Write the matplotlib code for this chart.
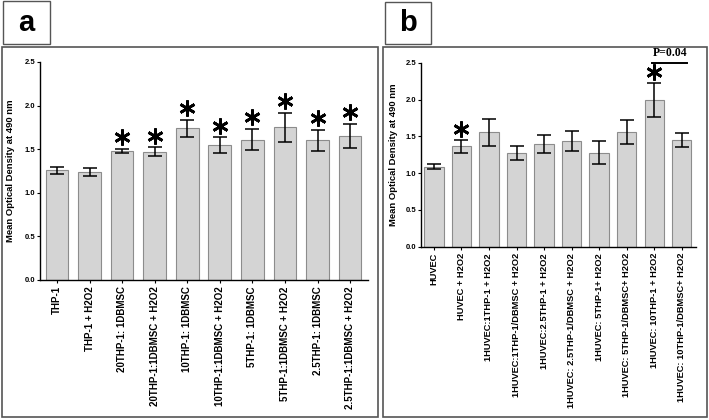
import matplotlib.pyplot as plt
from matplotlib.patches import Rectangle
from matplotlib.transforms import offset_copy

plt.rcParams['font.family'] = ['Liberation Sans', 'DejaVu Sans']
plt.rcParams['font.weight'] = 'bold'

# panel a data
labels_a = ['THP-1', 'THP-1 + H2O2', '20THP-1: 1DBMSC', '20THP-1:1DBMSC + H2O2',
            '10THP-1: 1DBMSC', '10THP-1:1DBMSC + H2O2', '5THP-1: 1DBMSC',
            '5THP-1:1DBMSC + H2O2', '2.5THP-1: 1DBMSC', '2.5THP-1:1DBMSC + H2O2']
means_a = [1.26, 1.24, 1.48, 1.47, 1.74, 1.545, 1.61, 1.75, 1.605, 1.65]
errs_a = [0.04, 0.045, 0.02, 0.05, 0.10, 0.09, 0.12, 0.17, 0.12, 0.14]
star_a = [2, 3, 4, 5, 6, 7, 8, 9]

# panel b data
labels_b = ['HUVEC', 'HUVEC + H2O2', '1HUVEC:1THP-1 + H2O2', '1HUVEC:1THP-1/DBMSC + H2O2',
            '1HUVEC:2.5THP-1 + H2O2', '1HUVEC: 2.5THP-1/DBMSC + H2O2', '1HUVEC: 5THP-1+ H2O2',
            '1HUVEC: 5THP-1/DBMSC+ H2O2', '1HUVEC: 10THP-1 + H2O2', '1HUVEC: 10THP-1/DBMSC+ H2O2']
means_b = [1.09, 1.365, 1.555, 1.275, 1.40, 1.44, 1.28, 1.56, 2.0, 1.455]
errs_b = [0.035, 0.09, 0.18, 0.09, 0.125, 0.14, 0.16, 0.16, 0.23, 0.095]
star_b = [1, 8]

W, H = 709, 420
fig = plt.figure(figsize=(W / 100, H / 100), dpi=100)


def fx(px):
    return px / W


def fy(py):
    return 1 - py / H


def box(x0, y0, x1, y1, lw=1.2):
    fig.patches.append(Rectangle((fx(x0), fy(y1)), fx(x1 - x0), (y1 - y0) / H,
                                 transform=fig.transFigure, fill=False,
                                 edgecolor='#555555', linewidth=lw))


def panel(rect, labels, means, errs, stars, xlim, ylab_x, star_pad, xfs):
    ax = fig.add_axes(rect)
    x = range(len(means))
    ax.bar(x, means, width=0.7, color='#d4d4d4', edgecolor='#8c8c8c', linewidth=0.8)
    ax.errorbar(x, means, yerr=errs, fmt='none', ecolor='black', elinewidth=1.1,
                capsize=5, capthick=1.1)
    tr = offset_copy(ax.transData, fig=fig, y=star_pad, units='points')
    for i in stars:
        ax.plot(i, means[i] + errs[i], marker=(6, 2, 0), markersize=11.5,
                markeredgewidth=2.0, color='black', transform=tr, clip_on=False)
    ax.set_xlim(*xlim)
    ax.set_ylim(0, 2.5)
    ax.set_yticks([0.0, 0.5, 1.0, 1.5, 2.0, 2.5])
    ax.set_yticklabels(['0.0', '0.5', '1.0', '1.5', '2.0', '2.5'])
    ax.set_xticks(list(x))
    ax.set_xticklabels(labels, rotation=90, fontsize=xfs)
    ax.tick_params(axis='y', labelsize=5.5, length=2.5, width=0.8, pad=1)
    ax.tick_params(axis='x', length=2.5, width=0.8, pad=2)
    for s in ['top', 'right']:
        ax.spines[s].set_visible(False)
    for s in ['left', 'bottom']:
        ax.spines[s].set_linewidth(1.0)
    ax.set_ylabel('Mean Optical Density at 490 nm', fontsize=6.8, fontweight='bold')
    ax.yaxis.set_label_coords(ylab_x, 0.5)
    return ax


# outer panel frames and letter boxes
box(2, 47, 378, 417)
box(383, 47, 707, 417)
box(3, 1, 50, 44, lw=1.0)
box(385, 2, 431, 44, lw=1.0)
fig.text(fx(26.5), fy(23), 'a', fontsize=21, fontweight='bold', ha='center', va='center')
fig.text(fx(408), fy(23), 'b', fontsize=21, fontweight='bold', ha='center', va='center')

ax_a = panel([fx(40), fy(280), fx(328), (280 - 62) / H], labels_a, means_a, errs_a,
             star_a, (-0.52, 9.55), -0.075, 8.5, 7.0)
ax_b = panel([fx(421), fy(246.7), fx(274.7), (246.7 - 63) / H], labels_b, means_b, errs_b,
             star_b, (-0.47, 9.51), -0.085, 8, 6.7)

# significance bracket between last two bars of panel b
ax_b.plot([7.92, 9.2], [2.505, 2.505], color='black', linewidth=1.4, clip_on=False)
ax_b.text(8.58, 2.56, 'P=0.04', fontsize=8.5, fontweight='bold', ha='center', va='bottom',
          family=['Liberation Serif', 'DejaVu Serif'])

fig.savefig('out.png', dpi=100)
